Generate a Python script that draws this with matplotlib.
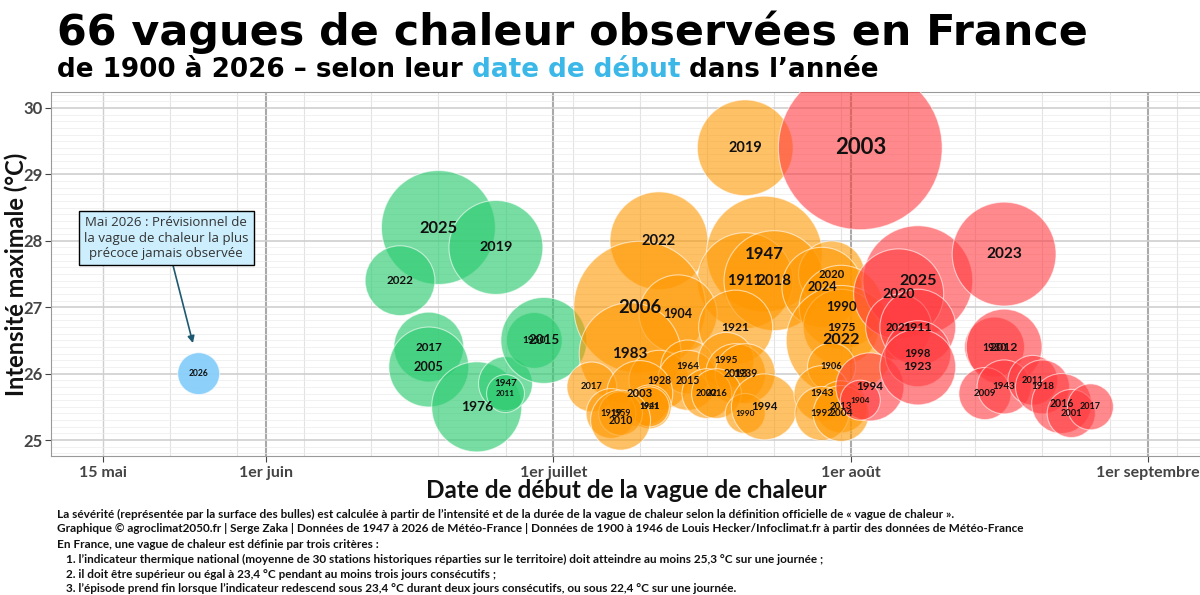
import matplotlib
matplotlib.use("Agg")
import matplotlib.pyplot as plt
import matplotlib.ticker as mticker
import numpy as np
import pandas as pd

plt.rcParams['font.family'] = ['Lato', 'DejaVu Sans']

# vagues de chaleur : année, date de début (mois-jour), intensité max (°C), sévérité (surface)
annees = [2025, 2019, 2022, 2017, 2005, 1976, 1947, 2011, 1950, 2015,
          2026,
          2019, 2022, 1947, 1911, 2018, 2006, 1904, 1921, 1983, 2017,
          1928, 1964, 2015, 2003, 1941, 1921, 1919, 1959, 2010, 1995,
          2013, 1939, 2002, 2016, 1990, 1994, 2020, 2024, 1990, 1975,
          2022, 1906, 1943, 2013, 1992, 2004,
          2003, 1994, 1904, 2025, 2020, 2021, 1911, 1998, 1923, 2023,
          1930, 2012, 2009, 1943, 2011, 1918, 2016, 2001, 2017]
debuts = ['06-19', '06-25', '06-15', '06-18', '06-18', '06-23', '06-26', '06-26', '06-29', '06-30',
          '05-25',
          '07-21', '07-12', '07-23', '07-21', '07-24', '07-10', '07-14', '07-20', '07-09', '07-05',
          '07-12', '07-15', '07-15', '07-10', '07-11', '07-11', '07-07', '07-08', '07-08', '07-19',
          '07-20', '07-21', '07-17', '07-18', '07-21', '07-23', '07-30', '07-29', '07-31', '07-31',
          '07-31', '07-30', '07-29', '07-31', '07-29', '07-31',
          '08-02', '08-03', '08-02', '08-08', '08-06', '08-06', '08-08', '08-08', '08-08', '08-17',
          '08-16', '08-17', '08-15', '08-17', '08-20', '08-21', '08-23', '08-24', '08-26']
intensites = [28.2, 27.9, 27.4, 26.4, 26.1, 25.5, 25.85, 25.7, 26.5, 26.5,
              26.0,
              29.4, 28.0, 27.8, 27.4, 27.4, 27.0, 26.9, 26.7, 26.3, 25.8,
              25.9, 26.1, 25.9, 25.7, 25.5, 25.5, 25.4, 25.4, 25.3, 26.2,
              26.0, 26.0, 25.7, 25.7, 25.4, 25.5, 27.5, 27.3, 27.0, 26.7,
              26.5, 26.1, 25.7, 25.5, 25.4, 25.4,
              29.4, 25.8, 25.6, 27.4, 27.2, 26.7, 26.7, 26.3, 26.1, 27.8,
              26.4, 26.4, 25.7, 25.8, 25.9, 25.8, 25.55, 25.4, 25.5]
severites = [325, 221, 122, 122, 160, 203, 73, 36, 78, 185,
             44,
             230, 240, 336, 230, 250, 436, 152, 137, 260, 62,
             90, 73, 90, 109, 48, 40, 62, 48, 90, 78,
             90, 90, 62, 62, 40, 109, 109, 160, 176, 144,
             302, 58, 78, 68, 73, 78,
             672, 116, 40, 302, 203, 109, 144, 109, 144, 270,
             90, 144, 68, 73, 62, 73, 90, 58, 53]

mois_dates = ['05-15', '06-01', '07-01', '08-01', '09-01']
mois_labels = ['15 mai', '1er juin', '1er juillet', '1er août', '1er septembre']

couleurs = {'05': '#87cefa', '06': '#2ecc71', '07': '#ff9800', '08': '#ff3b3f'}
alphas = {'05': 0.95, '06': 0.65, '07': 0.6, '08': 0.6}


def jour(mmjj):
    return pd.Timestamp('2001-' + mmjj).dayofyear


df = pd.DataFrame({'annee': annees, 'debut': debuts,
                   'intensite': intensites, 'severite': severites})
df['jour'] = df['debut'].map(jour)
df['mois'] = df['debut'].str[:2]
rayon = np.sqrt(df['severite'] * 10)  # rayon en pixels

fig = plt.figure(figsize=(12, 5.95), dpi=100)
ax = fig.add_axes([51 / 1200, 139 / 595, 1154 / 1200, 364 / 595])

faces = [matplotlib.colors.to_rgba(couleurs[m], alphas[m]) for m in df['mois']]
ax.scatter(df['jour'], df['intensite'], s=df['severite'] * 20.7, c=faces,
           edgecolors=(1, 1, 1, 0.6), linewidths=0.8, zorder=3)

for a, j, t, r in zip(df['annee'], df['jour'], df['intensite'], rayon):
    ax.text(j, t, str(a), fontsize=2.8 + 0.16 * r, fontweight='bold',
            ha='center', va='center', color='#111111', zorder=5)

# encadré 2026
i26 = df.index[df['annee'] == 2026][0]
ax.annotate('Mai 2026 : Prévisionnel de\nla vague de chaleur la plus\nprécoce jamais observée',
            xy=(df['jour'][i26] - 0.6, df['intensite'][i26] + 0.46), xytext=(141.6, 28.04),
            ha='center', va='center', fontsize=9.5, color='#333333',
            family=['Open Sans', 'DejaVu Sans'], linespacing=1.25, zorder=6,
            bbox=dict(boxstyle='square,pad=0.4', fc='#cdeefc', ec='black', lw=1),
            arrowprops=dict(arrowstyle='-|>', color='#1d5a72', lw=1.2,
                            shrinkA=0, shrinkB=0, mutation_scale=10))

ax.set_xlim(129.6, 249.95)
ax.set_ylim(24.76, 30.24)

majeurs = [jour(d) for d in mois_dates]
ax.set_xticks(majeurs)
ax.set_xticklabels(mois_labels)
semaines = [d for d in range(majeurs[0], 250, 7) if d not in majeurs]
ax.xaxis.set_minor_locator(mticker.FixedLocator(semaines))
ax.yaxis.set_major_locator(mticker.MultipleLocator(1))
ax.yaxis.set_minor_locator(mticker.MultipleLocator(0.1))

ax.set_axisbelow(True)
ax.grid(which='major', axis='x', color='#aaaaaa', lw=1.5)
ax.grid(which='minor', axis='x', color='#e3e3e3', lw=0.8)
ax.grid(which='major', axis='y', color='#cfcfcf', lw=1.2)
ax.grid(which='minor', axis='y', color='#ececec', lw=0.5)
ax.get_xgridlines()[0].set_color('#cfcfcf')
ax.get_xgridlines()[0].set_linewidth(1)

ax.tick_params(which='minor', length=0)
ax.tick_params(axis='y', which='major', labelsize=12, colors='#444444', length=4, pad=2)
ax.tick_params(axis='x', which='major', labelsize=11.5, colors='#444444', length=4, pad=3)
for lab in ax.get_xticklabels() + ax.get_yticklabels():
    lab.set_fontweight('bold')
for sp in ax.spines.values():
    sp.set_color('#999999')

ax.set_ylabel('Intensité maximale (°C)', fontsize=17, fontweight='bold', color='#111111')
ax.yaxis.set_label_coords((28 - 51) / 1154, 0.5)

fig.text(626 / 1200, 1 - 490 / 595, 'Date de début de la vague de chaleur',
         ha='center', va='center', fontsize=17.5, fontweight='bold', color='#111111')

# titres
titre_font = ['DejaVu Sans']
fig.text(57 / 1200, 1 - 45 / 595, '66 vagues de chaleur observées en France',
         fontsize=30.9, fontweight='bold', family=titre_font, color='#000000', va='baseline')
t1 = fig.text(57 / 1200, 1 - 83 / 595, 'de 1900 à 2026 – selon leur',
              fontsize=18.9, fontweight='bold', family=titre_font, color='#000000', va='bottom')
t2 = ax.annotate(' date de début', xy=(1, 0), xycoords=t1, va='bottom', ha='left',
                 fontsize=18.9, fontweight='bold', family=titre_font, color='#3cb8e8',
                 annotation_clip=False)
ax.annotate(' dans l’année', xy=(1, 0), xycoords=t2, va='bottom', ha='left',
            fontsize=18.9, fontweight='bold', family=titre_font, color='#000000',
            annotation_clip=False)

# notes
notes = [
    'La sévérité (représentée par la surface des bulles) est calculée à partir de l’intensité et de la durée de la vague de chaleur selon la définition officielle de « vague de chaleur ».',
    'Graphique © agroclimat2050.fr | Serge Zaka | Données de 1947 à 2026 de Météo-France | Données de 1900 à 1946 de Louis Hecker/Infoclimat.fr à partir des données de Météo-France',
    'En France, une vague de chaleur est définie par trois critères :',
    '1. l’indicateur thermique national (moyenne de 30 stations historiques réparties sur le territoire) doit atteindre au moins 25,3 °C sur une journée ;',
    '2. il doit être supérieur ou égal à 23,4 °C pendant au moins trois jours consécutifs ;',
    '3. l’épisode prend fin lorsque l’indicateur redescend sous 23,4 °C durant deux jours consécutifs, ou sous 22,4 °C sur une journée.',
]
lignes_y = [514, 529, 544, 559, 574, 588]
for k, (txt, yy) in enumerate(zip(notes, lignes_y)):
    x0 = 66 if k >= 3 else 57
    fig.text(x0 / 1200, 1 - yy / 595, txt, fontsize=8.5, fontweight='bold',
             color='#111111', va='center')

fig.savefig('out.png', dpi=100)
